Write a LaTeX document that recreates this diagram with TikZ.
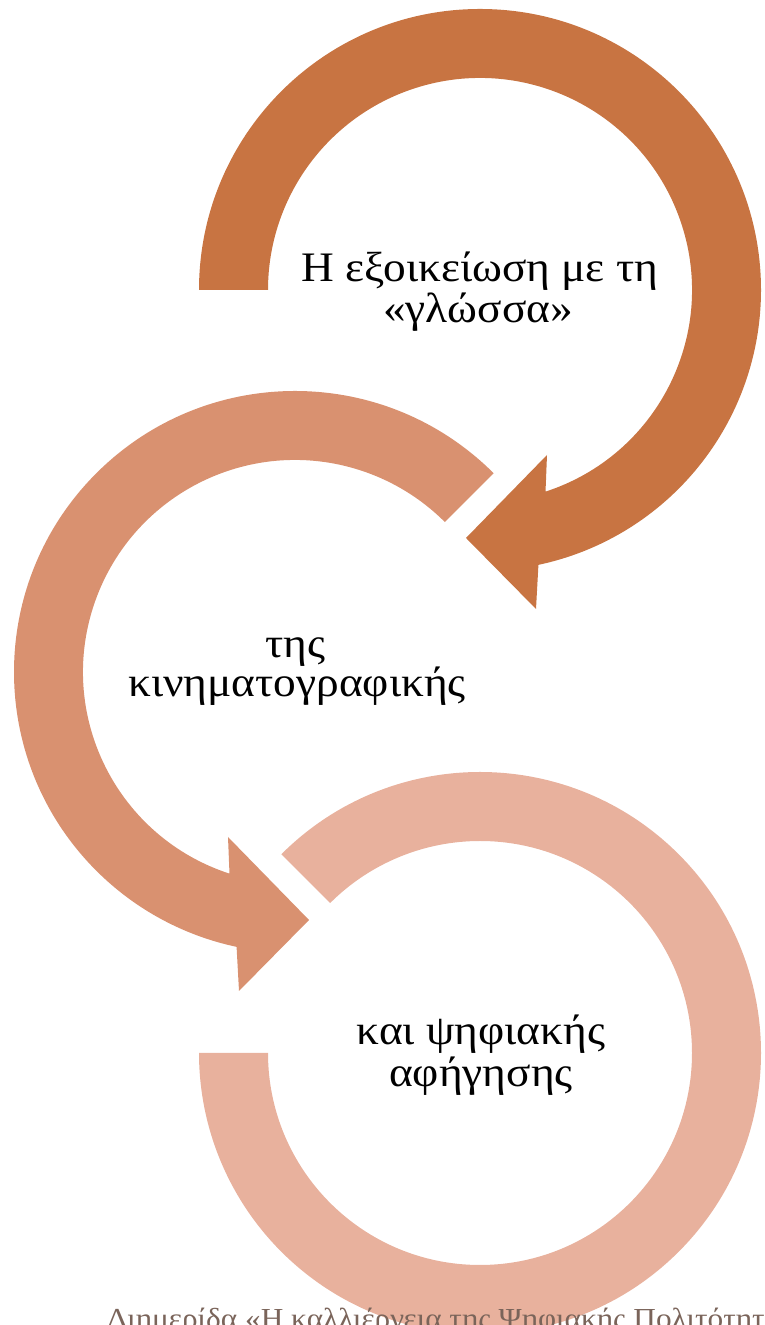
\documentclass[tikz,border=0pt]{standalone}
\usepackage{fontspec}
\setmainfont{Liberation Serif}[FakeStretch=1.08]
\definecolor{arcA}{RGB}{200,116,66}
\definecolor{arcB}{RGB}{217,145,112}
\definecolor{arcC}{RGB}{232,177,157}
\definecolor{foot}{RGB}{122,100,90}
\tikzset{
  lbl/.style={anchor=base, inner sep=0pt, font=\fontsize{42}{46}\selectfont, text=black},
  footlbl/.style={anchor=base west, inner sep=0pt, font=\fontsize{29}{33}\selectfont, text=foot}
}
\begin{document}
\begin{tikzpicture}[x=1pt,y=1pt]
\useasboundingbox (0,0) rectangle (764,1325);
\clip (0,0) rectangle (764,1325);
% arc 1
\begin{scope}[shift={(480,1035)}]
\fill[arcA] (180:281) arc[start angle=180, end angle=-78, radius=281]
  -- (56,-319) -- (-14,-248) -- (67,-165) -- (-72:212)
  arc[start angle=-72, end angle=180, radius=212] -- cycle;
\end{scope}
% arc 2
\begin{scope}[shift={(295,653)}]
\fill[arcB] (45:281) arc[start angle=45, end angle=258, radius=281]
  -- (-56,-319) -- (14,-248) -- (-67,-165) -- (252:212)
  arc[start angle=252, end angle=45, radius=212] -- cycle;
\end{scope}
% arc 3
\begin{scope}[shift={(480,272)}]
\fill[arcC] (135:281) arc[start angle=135, end angle=-180, radius=281]
  -- (180:212) arc[start angle=-180, end angle=135, radius=212] -- cycle;
\end{scope}
% texts
\node[lbl] (t1a) at (480,1043) {Η εξοικείωση με τη};
\node[lbl] (t1b) at (478,1002) {«γλώσσα»};
\node[lbl] (t2a) at (295,667) {της};
\node[lbl] (t2b) at (297,628) {κινηματογραφικής};
\node[lbl] (t3a) at (481,280) {και ψηφιακής};
\node[lbl] (t3b) at (481,238) {αφήγησης};
\node[footlbl] (ft) at (107,-4) {Διημερίδα «Η καλλιέργεια της Ψηφιακής Πολιτότητας»};
\end{tikzpicture}
\end{document}
